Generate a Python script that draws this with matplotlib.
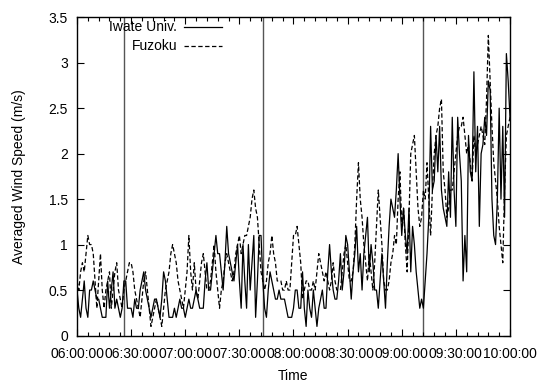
import numpy as np
import matplotlib
matplotlib.use("Agg")
import matplotlib.pyplot as plt
from matplotlib.ticker import MultipleLocator

plt.rcParams['font.family'] = ['Liberation Sans', 'DejaVu Sans']

# one-minute averaged wind speed (m/s), 06:00 .. 10:00
iwate = [
    0.5, 0.3, 0.2, 0.4, 0.6, 0.3, 0.2, 0.5, 0.5, 0.6,
    0.5, 0.4, 0.4, 0.3, 0.2, 0.2, 0.2, 0.6, 0.3, 0.5,
    0.7, 0.3, 0.4, 0.3, 0.2, 0.3, 0.6, 0.6, 0.3, 0.3,
    0.3, 0.2, 0.4, 0.3, 0.3, 0.5, 0.6, 0.7, 0.5, 0.4,
    0.3, 0.2, 0.3, 0.4, 0.4, 0.3, 0.2, 0.4, 0.7, 0.6,
    0.4, 0.2, 0.2, 0.2, 0.3, 0.2, 0.3, 0.4, 0.3, 0.3,
    0.2, 0.3, 0.4, 0.3, 0.3, 0.4, 0.5, 0.4, 0.3, 0.3,
    0.3, 0.6, 0.8, 0.5, 0.5, 0.7, 0.9, 1.1, 0.9, 0.9,
    0.7, 0.5, 0.8, 1.2, 0.9, 0.8, 0.7, 0.6, 0.8, 1.0,
    0.6, 0.3, 1.0, 0.6, 0.3, 1.0, 0.5, 0.8, 1.1, 0.2,
    0.6, 1.1, 1.1, 0.6, 0.3, 0.2, 0.5, 0.7, 0.6, 0.5,
    0.4, 0.4, 0.5, 0.4, 0.4, 0.4, 0.3, 0.2, 0.2, 0.2,
    0.3, 0.5, 0.5, 0.3, 0.3, 0.7, 0.3, 0.1, 0.5, 0.3,
    0.2, 0.5, 0.3, 0.1, 0.3, 0.4, 0.5, 0.3, 0.3, 0.7,
    1.0, 0.7, 0.5, 0.4, 0.4, 0.6, 0.9, 0.5, 0.7, 1.1,
    1.0, 0.7, 0.4, 0.7, 0.9, 1.2, 0.7, 0.9, 0.5, 0.9,
    1.1, 1.3, 0.7, 1.0, 0.8, 0.5, 0.5, 0.3, 0.6, 0.9,
    0.6, 0.3, 0.8, 1.2, 1.5, 1.4, 1.3, 1.6, 2.0, 1.5,
    1.1, 1.4, 1.1, 0.9, 1.4, 0.7, 1.2, 1.0, 0.7, 0.5,
    0.3, 0.4, 0.3, 0.6, 0.9, 1.3, 2.3, 1.6, 1.7, 2.2,
    1.8, 2.3, 1.6, 1.4, 1.3, 1.2, 1.8, 1.3, 2.4, 1.6,
    1.2, 2.4, 2.0, 1.7, 0.6, 1.1, 0.7, 2.2, 1.8, 1.7,
    2.9, 1.8, 2.3, 1.2, 2.0, 2.1, 2.4, 2.2, 2.8, 2.7,
    1.5, 1.1, 1.0, 1.5, 2.5, 1.5, 2.3, 1.3, 3.1, 2.8,
    2.4,
]
fuzoku = [
    0.6, 0.5, 0.7, 0.8, 0.7, 0.9, 1.1, 1.0, 1.0, 0.9,
    0.6, 0.3, 0.6, 0.9, 0.5, 0.3, 0.5, 0.6, 0.7, 0.3,
    0.5, 0.7, 0.8, 0.5, 0.4, 0.3, 0.5, 0.6, 0.7, 0.8,
    0.8, 0.7, 0.5, 0.4, 0.3, 0.2, 0.4, 0.6, 0.7, 0.5,
    0.3, 0.1, 0.2, 0.3, 0.4, 0.3, 0.2, 0.1, 0.3, 0.5,
    0.6, 0.7, 0.9, 1.0, 0.9, 0.8, 0.6, 0.5, 0.4, 0.3,
    0.5, 0.7, 1.1, 0.7, 0.5, 0.8, 0.5, 0.4, 0.6, 0.8,
    0.9, 0.7, 0.5, 0.5, 0.6, 0.8, 1.0, 0.7, 0.5, 0.3,
    0.5, 0.6, 0.8, 0.9, 0.8, 0.7, 0.6, 0.7, 0.9, 1.0,
    1.1, 0.9, 1.0, 1.1, 1.1, 1.2, 1.3, 1.5, 1.6, 1.4,
    1.3, 1.0, 0.7, 0.6, 0.5, 0.6, 0.8, 0.9, 1.1, 0.9,
    0.8, 0.6, 0.6, 0.6, 0.5, 0.5, 0.6, 0.5, 0.5, 0.8,
    1.1, 1.1, 1.2, 1.0, 0.8, 0.4, 0.5, 0.6, 0.6, 0.5,
    0.5, 0.6, 0.5, 0.7, 0.9, 0.8, 0.7, 0.6, 0.7, 0.6,
    0.5, 0.6, 0.8, 0.6, 0.5, 0.5, 0.5, 0.7, 0.9, 1.0,
    0.8, 0.6, 0.6, 0.7, 1.0, 1.5, 1.9, 1.5, 1.3, 1.0,
    0.8, 0.6, 0.9, 0.7, 0.5, 0.8, 1.2, 1.6, 1.3, 1.0,
    0.6, 0.5, 0.5, 0.6, 0.8, 0.9, 1.1, 1.0, 1.5, 1.8,
    1.2, 1.4, 1.0, 0.7, 1.3, 2.0, 2.1, 2.2, 1.8, 1.4,
    1.2, 1.3, 1.6, 1.5, 1.9, 1.5, 1.1, 1.6, 2.0, 2.2,
    2.3, 2.5, 2.6, 1.8, 1.6, 1.3, 1.4, 1.6, 1.6, 1.8,
    2.0, 2.2, 2.3, 2.3, 2.4, 2.2, 2.0, 2.1, 1.9, 1.7,
    2.2, 2.0, 2.1, 2.2, 2.3, 2.2, 2.1, 2.6, 3.3, 2.8,
    2.3, 1.9, 1.7, 1.5, 1.2, 1.0, 0.8, 1.6, 2.2, 2.3,
    2.4,
]
series_labels = ["Iwate Univ.", "Fuzoku"]

# vertical marker lines, minutes after 06:00 (06:26, 07:43, 09:12)
events = [26, 103, 192]

tick_pos = [0, 30, 60, 90, 120, 150, 180, 210, 240]
tick_labels = ["06:00:00", "06:30:00", "07:00:00", "07:30:00", "08:00:00",
               "08:30:00", "09:00:00", "09:30:00", "10:00:00"]

minutes = np.arange(len(iwate))
fs = 10

fig = plt.figure(figsize=(5.37, 3.83), dpi=100)
ax = fig.add_axes([0.1434, 0.124, 0.8063, 0.831])

for t in events:
    ax.axvline(t, color="#555555", lw=1.0, zorder=1)

ax.plot(minutes, iwate, color="black", lw=0.9, ls="-", zorder=3)
ax.plot(minutes, fuzoku, color="black", lw=0.9, ls=(0, (3.5, 2)), zorder=3)

ax.set_xlim(0, 240)
ax.set_ylim(0, 3.5)
ax.set_xticks(tick_pos)
ax.set_xticklabels(tick_labels)
ax.xaxis.set_minor_locator(MultipleLocator(6))
ax.yaxis.set_major_locator(MultipleLocator(0.5))
ax.yaxis.set_major_formatter(plt.FuncFormatter(lambda v, p: "%g" % v))

ax.tick_params(which="both", direction="in", top=True, right=True,
               labelsize=fs, width=0.8)
ax.tick_params(axis="x", which="major", length=5, pad=8)
ax.tick_params(axis="x", which="minor", length=3)
ax.tick_params(axis="y", which="major", length=5, pad=6.5)
for s in ax.spines.values():
    s.set_linewidth(1.0)

ax.set_xlabel("Time", fontsize=fs, labelpad=6)
ax.set_ylabel("Averaged Wind Speed (m/s)", fontsize=fs, labelpad=16)

# key in the upper left, text right-aligned with the sample to its right
styles = ["-", (0, (3.5, 2))]
for i, (lab, st) in enumerate(zip(series_labels, styles)):
    yk = 0.968 - i * 0.058
    ax.text(0.231, yk, lab, transform=ax.transAxes, ha="right", va="center",
            fontsize=fs)
    ax.plot([0.247, 0.335], [yk, yk], transform=ax.transAxes, color="black",
            lw=0.9, ls=st)

fig.savefig("out.png", dpi=100)
